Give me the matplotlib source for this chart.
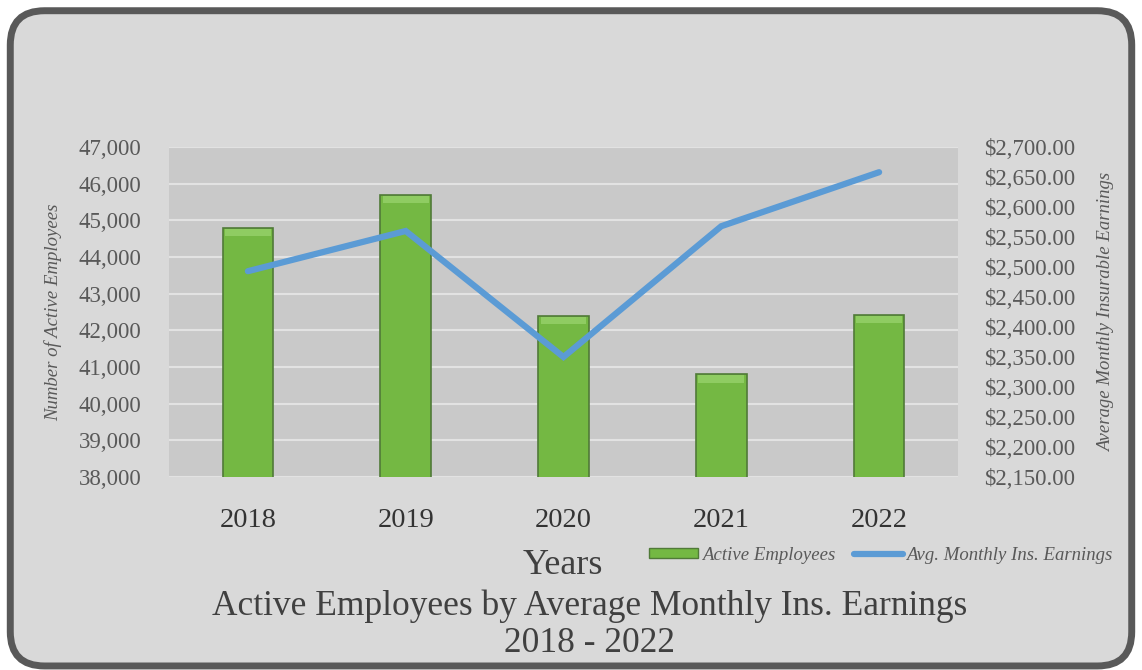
import matplotlib.pyplot as plt
import numpy as np
from matplotlib.patches import FancyBboxPatch
from matplotlib.ticker import FuncFormatter

years = ["2018", "2019", "2020", "2021", "2022"]
active_employees = [44800, 45700, 42400, 40800, 42420]
avg_earnings = [2493, 2560, 2350, 2568, 2658]

plt.rcParams['font.family'] = ['Liberation Serif', 'DejaVu Serif']
grey = '#595959'

fig = plt.figure(figsize=(11.42, 6.7), dpi=100)
fig.patch.set_facecolor('white')

# rounded chart frame, behind everything
frame = FancyBboxPatch((0.009, 0.006), 0.982, 0.978, boxstyle="round,pad=0,rounding_size=0.03",
                       transform=fig.transFigure, facecolor='#d9d9d9', edgecolor='#595959',
                       linewidth=5, mutation_aspect=1142 / 670, zorder=-10)
fig.patches.append(frame)

ax = fig.add_axes([169 / 1142, 1 - 477 / 670, (958 - 169) / 1142, (477 - 147) / 670])
ax.set_facecolor('#c9c9c9')
x = np.arange(len(years))

ax.bar(x, active_employees, width=0.32, bottom=0, color='#74b843', edgecolor='#507a38',
       linewidth=1.2, zorder=2)
# soft bevel on top of each bar
ax.bar(x, [200] * len(years), width=0.29, bottom=np.array(active_employees) - 230,
       color='#8fcc62', linewidth=0, zorder=2.5)
ax.set_ylim(38000, 47000)
ax.set_xlim(-0.5, 4.5)
ax.set_yticks(np.arange(38000, 47001, 1000))
ax.yaxis.set_major_formatter(FuncFormatter(lambda v, p: f"{int(v):,}"))
ax.grid(axis='y', color='#e2e2e2', linewidth=1.5, zorder=0)
ax.set_axisbelow(True)
ax.set_xticks(x)
ax.set_xticklabels(years, fontsize=20.5, color='#333333')
ax.tick_params(axis='y', labelsize=16.5, colors=grey, length=0, pad=20)
ax.tick_params(axis='x', length=0, pad=22)
for s in ax.spines.values():
    s.set_visible(False)
ax.set_ylabel("Number of Active Employees", fontsize=13.5, style='italic', color=grey, labelpad=12)

ax2 = ax.twinx()
ax2.plot(x, avg_earnings, color='#5b9bd5', linewidth=4.5, solid_capstyle='round',
         solid_joinstyle='miter', zorder=3)
ax2.set_ylim(2150, 2700)
ax2.set_yticks(np.arange(2150, 2701, 50))
ax2.yaxis.set_major_formatter(FuncFormatter(lambda v, p: f"${v:,.2f}"))
ax2.tick_params(axis='y', labelsize=16.5, colors=grey, length=0, pad=19)
for s in ax2.spines.values():
    s.set_visible(False)
ax2.set_ylabel("Average Monthly Insurable Earnings", fontsize=13.5, style='italic', color=grey,
               labelpad=16)

# legend
h1 = plt.Rectangle((0, 0), 1, 1, facecolor='#74b843', edgecolor='#507a38')
h2 = plt.Line2D([0], [0], color='#5b9bd5', linewidth=4.5, solid_capstyle='round')
fig.legend([h1, h2], ["Active Employees", "Avg. Monthly Ins. Earnings"],
           loc='center', bbox_to_anchor=(881 / 1142, 1 - 555 / 670), ncol=2, frameon=False,
           prop={'style': 'italic', 'size': 13.5}, labelcolor=grey, handlelength=2.6,
           handleheight=0.4, handletextpad=0.2, columnspacing=1.0)

fig.text(563 / 1142, 1 - 565 / 670, "Years", ha='center', va='center', fontsize=26, color='#404040')
fig.text(590 / 1142, 1 - 606 / 670, "Active Employees by Average Monthly Ins. Earnings",
         ha='center', va='center', fontsize=25.5, color='#404040')
fig.text(590 / 1142, 1 - 643 / 670, "2018 - 2022", ha='center', va='center', fontsize=25.5,
         color='#404040')

fig.savefig("out.png", dpi=100)
